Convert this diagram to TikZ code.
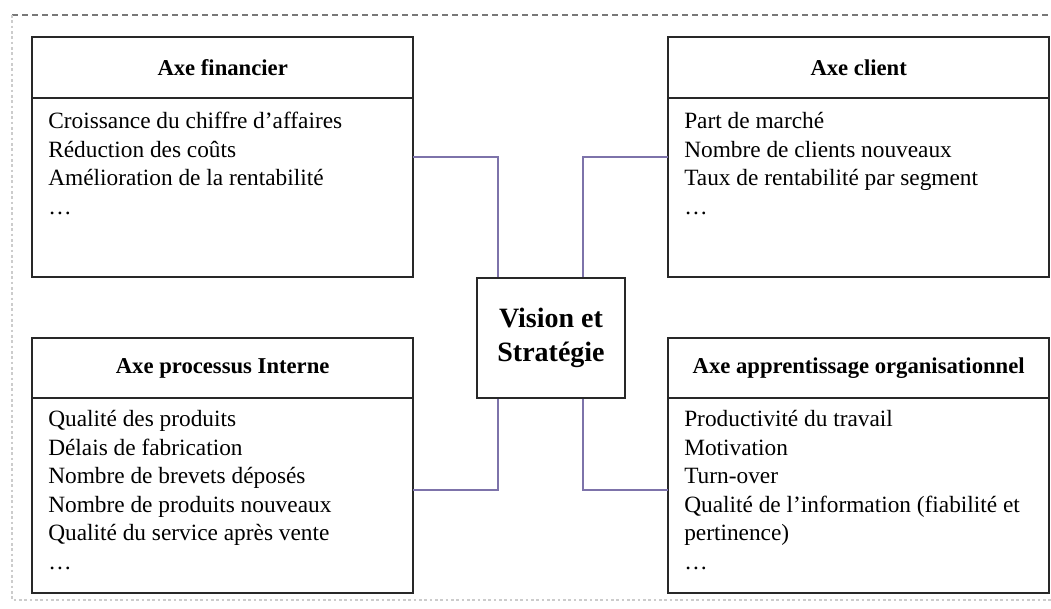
\documentclass[tikz,border=0pt]{standalone}
\usepackage{fontspec}
\setmainfont{Liberation Serif}
\usetikzlibrary{positioning}
\definecolor{xlink}{RGB}{125,115,170}
\definecolor{xframe}{RGB}{120,120,120}
\definecolor{xedge}{RGB}{40,40,40}

\begin{document}
\begin{tikzpicture}[
  x=0.75pt, y=-0.75pt,
  axehead/.style={draw=xedge, line width=1.3pt, outer sep=0pt, minimum width=286pt,
                  font=\fontsize{17}{20}\selectfont\bfseries},
  axebody/.style={draw=xedge, line width=1.3pt, outer sep=0pt, minimum width=286pt},
  items/.style={anchor=north west, inner sep=0pt, align=left,
                font=\fontsize{17.5}{21.4}\selectfont},
  vision/.style={draw=xedge, line width=1.3pt, minimum width=111pt, minimum height=90pt,
                 align=center, font=\fontsize{21}{26}\selectfont\bfseries},
  link/.style={draw=xlink, line width=1pt}
]
  \useasboundingbox (0,0) rectangle (1051,608);

  % cadre
  \draw[xframe, line width=1.5pt, dash pattern=on 4.5pt off 3pt] (12,15) -- (1051,15);
  \draw[black!20, line width=0.8pt, dash pattern=on 2pt off 2pt] (12,15) -- (12,600) -- (1051,600);

  % axes
  \node[axehead, minimum height=45.75pt, anchor=north west] (fin) at (32,37) {Axe financier};
  \node[axebody, minimum height=134.25pt, below=0pt of fin] (finb) {};
  \node[items] (finl) at ([shift={(12pt,-10.5pt)}]finb.north west)
    {Croissance du chiffre d’affaires\\Réduction des coûts\\Amélioration de la rentabilité\\…};

  \node[axehead, minimum height=45.75pt, anchor=north west] (cli) at (668,37) {Axe client};
  \node[axebody, minimum height=134.25pt, below=0pt of cli] (clib) {};
  \node[items] (clil) at ([shift={(12pt,-10.5pt)}]clib.north west)
    {Part de marché\\Nombre de clients nouveaux\\Taux de rentabilité par segment\\…};

  \node[axehead, minimum height=45pt, anchor=north west] (pro) at (32,338) {Axe processus Interne};
  \node[axebody, minimum height=146.25pt, below=0pt of pro] (prob) {};
  \node[items] (prol) at ([shift={(12pt,-9pt)}]prob.north west)
    {Qualité des produits\\Délais de fabrication\\Nombre de brevets déposés\\Nombre de produits nouveaux\\Qualité du service après vente\\…};

  \node[axehead, minimum height=45pt, anchor=north west] (app) at (668,338) {Axe apprentissage organisationnel};
  \node[axebody, minimum height=146.25pt, below=0pt of app] (appb) {};
  \node[items] (appl) at ([shift={(12pt,-9pt)}]appb.north west)
    {Productivité du travail\\Motivation\\Turn-over\\Qualité de l’information (fiabilité et\\pertinence)\\…};

  \node[vision] (vis) at (551,338) {Vision et\\Stratégie};

  % liens
  \draw[link] ([yshift=-44.25pt]finb.north east) -| ([xshift=-39.75pt]vis.north);
  \draw[link] ([yshift=-44.25pt]clib.north west) -| ([xshift=24pt]vis.north);
  \draw[link] ([yshift=-69pt]prob.north east) -| ([xshift=-39.75pt]vis.south);
  \draw[link] ([yshift=-69pt]appb.north west) -| ([xshift=24pt]vis.south);
\end{tikzpicture}
\end{document}
